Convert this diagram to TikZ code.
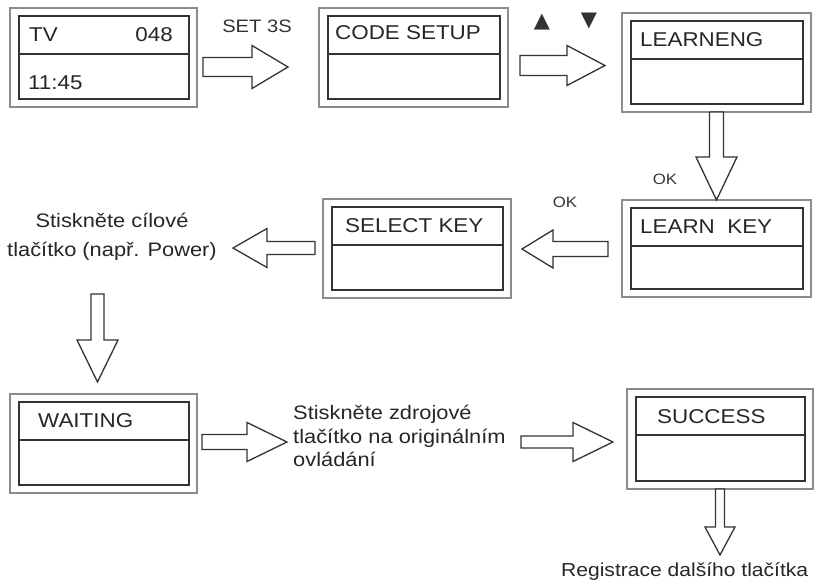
\documentclass[tikz,border=0pt]{standalone}
\usepackage{fontspec}
\setmainfont{Liberation Sans}[FakeStretch=1.12]
\newfontfamily\trifont{DejaVu Sans}
\usepackage{tikz}
\usetikzlibrary{positioning, calc}

\begin{document}
\begin{tikzpicture}[
  x=1pt, y=1pt,
  node distance = 4mm,
  lcd/.style = {draw=black!45, line width=1.1pt, minimum width=187pt, minimum height=99pt,
                inner sep=0pt, outer sep=0pt,
                path picture={
                  \draw[black!80, line width=1.3pt]
                    ([shift={(9pt,-8pt)}]path picture bounding box.north west) rectangle
                    ([shift={(-8pt,8pt)}]path picture bounding box.south east);
                  \draw[black!80, line width=1.3pt]
                    ([shift={(9pt,-46pt)}]path picture bounding box.north west) --
                    ([shift={(-8pt,-46pt)}]path picture bounding box.north east);}},
  lbl/.style = {inner sep=0pt, text=black!85, font=\fontsize{20}{24}\selectfont},
  txt/.style = {inner sep=0pt, text=black!85, font=\fontsize{19.5}{23.5}\selectfont},
  small/.style = {inner sep=0pt, text=black!80, font=\fontsize{15}{18}\selectfont},
  arrline/.style = {draw=black!80, fill=white, line width=1.3pt, line join=miter},
  pics/blkarr/.style n args = {4}{code={
    \draw[arrline] (0,-#3) -- (#2,-#3) -- (#2,-#4) -- (#1,0) -- (#2,#4) -- (#2,#3) -- (0,#3) -- cycle;}}
]
\useasboundingbox (0,0) rectangle (815,-581);

% displays
\node[lcd] (tv) at (103.5,-57.5) {};
\node[lcd, right=122pt of tv, minimum width=189pt] (code) {};
\node[lcd, right=114pt of code, yshift=-5pt, minimum width=189pt] (learn) {};
\node[lcd, below=88pt of learn, minimum height=97pt, minimum width=189pt] (lkey) {};
\node[lcd, left=111pt of lkey, minimum width=188pt] (sel) {};
\node[lcd] (wait) at (103.5,-443.5) {};
\node[lcd, minimum width=186pt, minimum height=100pt] (succ) at (720,-439) {};

% display texts
\node[lbl, anchor=west] (tv-a) at ($(tv.north west)+(19,-27)$) {TV};
\node[lbl, anchor=east] (tv-b) at ($(tv.north east)+(-24,-27)$) {048};
\node[lbl, anchor=west] (tv-c) at ($(tv.north west)+(18,-75)$) {11:45};
\node[lbl, anchor=west] (code-t) at ($(code.north west)+(16,-25)$) {CODE SETUP};
\node[lbl, anchor=west] (learn-t) at ($(learn.north west)+(18,-27)$) {LEARNENG};
\node[lbl, anchor=west] (lkey-t) at ($(lkey.north west)+(18,-27)$) {LEARN\ \ KEY};
\node[lbl, anchor=west] (sel-t) at ($(sel.north west)+(22,-27)$) {SELECT KEY};
\node[lbl, anchor=west] (wait-t) at ($(wait.north west)+(28,-27)$) {WAITING};
\node[lbl, anchor=west] (succ-t) at ($(succ.north west)+(30,-28)$) {SUCCESS};

% key labels
\node[small, font=\fontsize{18}{20}\selectfont] (set) at (257,-26) {SET 3S};
\node[small, font=\fontsize{21}{24}\trifont] (up) at (542,-22) {▲};
\node[small, font=\fontsize{21}{24}\trifont] (down) at (589,-21) {▼};
\node[small] (ok1) at (665,-179) {OK};
\node[small] (ok2) at (565,-202) {OK};

% instructions
\node[txt, align=center, font=\fontsize{19.5}{29}\selectfont] (hint) at (112,-237)
  {Stiskněte cílové\\tlačítko (např. Power)};
\node[txt, align=left, anchor=west] (src) at (293,-436)
  {Stiskněte zdrojové\\tlačítko na originálním\\ovládání};
\node[txt, anchor=west, font=\fontsize{18.8}{22}\selectfont] (next) at (561,-572) {Registrace dalšího tlačítka};

% block arrows
\pic (a1) at ($(tv.east)+(6,-9.5)$) {blkarr={85}{49}{9.5}{21.5}};
\pic (a2) at ($(code.east)+(12,-8)$) {blkarr={85}{47}{10}{20}};
\pic[rotate=-90] (a3) at (learn.south) {blkarr={88}{45}{7}{20.5}};
\pic[rotate=180] (a4) at ($(lkey.west)+(-14,-0.5)$) {blkarr={86}{55}{7.5}{19}};
\pic[rotate=180] (a5) at ($(sel.west)+(-8,0.5)$) {blkarr={82}{48}{6.5}{19.5}};
\pic[rotate=-90] (a6) at ($(wait.north)+(-6,100)$) {blkarr={88}{46}{6.5}{20.5}};
\pic (a7) at ($(wait.east)+(5,1.5)$) {blkarr={85}{45}{7.5}{19.5}};
\pic (a8) at ($(succ.west)+(-106,-3)$) {blkarr={92}{52}{6}{19.5}};
\pic[rotate=-90] (a9) at (succ.south) {blkarr={66}{38}{4.5}{15}};
\end{tikzpicture}
\end{document}
